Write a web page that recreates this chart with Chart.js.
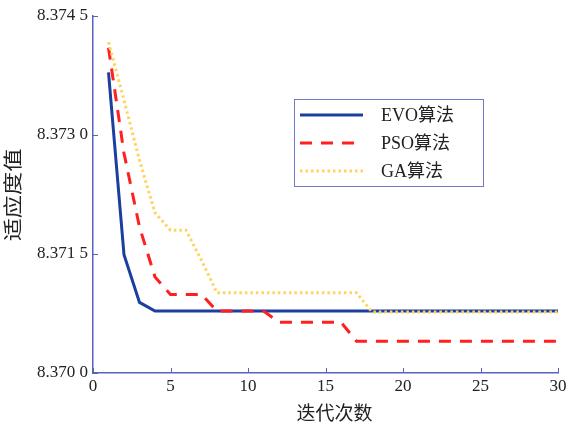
<!DOCTYPE html>
<html>
<head>
<meta charset="utf-8">
<script src="https://cdn.jsdelivr.net/npm/chart.js@4"></script>
<style>
    html, body { margin: 0; padding: 0; background: #fff; }
    #wrap { width: 572px; height: 425px; position: relative; }
</style>
</head>
<body>
<div id="wrap"><canvas id="fitChart"></canvas></div>
<script>
const iterations = [1, 2, 3, 4, 5, 6, 7, 8, 9, 10, 11, 12, 13, 14, 15, 16, 17, 18, 19, 20, 21, 22, 23, 24, 25, 26, 27, 28, 29, 30];

const evoValues = [8.37379, 8.37149, 8.37089, 8.37078, 8.37078, 8.37078, 8.37078, 8.37078, 8.37078, 8.37078,
    8.37078, 8.37078, 8.37078, 8.37078, 8.37078, 8.37078, 8.37078, 8.37078, 8.37078, 8.37078,
    8.37078, 8.37078, 8.37078, 8.37078, 8.37078, 8.37078, 8.37078, 8.37078, 8.37078, 8.37078];

const psoValues = [8.37410, 8.37277, 8.37184, 8.37121, 8.37099, 8.37099, 8.37099, 8.37078, 8.37078, 8.37078,
    8.37078, 8.37064, 8.37064, 8.37064, 8.37064, 8.37064, 8.37040, 8.37040, 8.37040, 8.37040,
    8.37040, 8.37040, 8.37040, 8.37040, 8.37040, 8.37040, 8.37040, 8.37040, 8.37040, 8.37040];

const gaValues = [8.37417, 8.37344, 8.37268, 8.37202, 8.37180, 8.37180, 8.37142, 8.37101, 8.37101, 8.37101,
    8.37101, 8.37101, 8.37101, 8.37101, 8.37101, 8.37101, 8.37101, 8.37077, 8.37077, 8.37077,
    8.37077, 8.37077, 8.37077, 8.37077, 8.37077, 8.37077, 8.37077, 8.37077, 8.37077, 8.37077];

const seriesNames = ['EVO算法', 'PSO算法', 'GA算法'];
const yTicks = [8.3700, 8.3715, 8.3730, 8.3745];
const xTicks = [0, 5, 10, 15, 20, 25, 30];
const xTitle = '迭代次数';
const yTitle = '适应度值';

const axisColor = '#5664bf';
const textColor = '#222';
const fontFamily = '"Liberation Serif", "Noto Sans CJK SC", serif';

function toPoints(values) {
    return values.map((v, i) => ({ x: iterations[i], y: v }));
}

// "8.3745" -> "8.374 5"
function fmtY(v) {
    const s = v.toFixed(4);
    return s.slice(0, 5) + ' ' + s.slice(5);
}

// tick marks point into the plot, like the original
const innerTicks = {
    id: 'innerTicks',
    afterDatasetsDraw(chart) {
        const { ctx, scales: { x, y } } = chart;
        ctx.save();
        ctx.strokeStyle = axisColor;
        ctx.lineWidth = 1;
        ctx.beginPath();
        yTicks.forEach(v => {
            const py = Math.round(y.getPixelForValue(v)) + 0.5;
            ctx.moveTo(x.left, py);
            ctx.lineTo(x.left + 5, py);
        });
        xTicks.forEach(v => {
            const px = Math.round(x.getPixelForValue(v)) + 0.5;
            ctx.moveTo(px, y.bottom);
            ctx.lineTo(px, y.bottom - 5);
        });
        ctx.stroke();
        ctx.restore();
    }
};

// axis titles (the x one sits a little right of centre in the original)
const axisTitles = {
    id: 'axisTitles',
    afterDraw(chart) {
        const { ctx, chartArea } = chart;
        ctx.save();
        ctx.fillStyle = textColor;
        ctx.font = '19px ' + fontFamily;
        ctx.textAlign = 'center';
        ctx.textBaseline = 'middle';
        ctx.fillText(xTitle, (chartArea.left + chartArea.right) / 2 + 9, 415);
        // y title is stretched along its length in the original
        ctx.translate(15, 195);
        ctx.rotate(-Math.PI / 2);
        ctx.scale(1.22, 1);
        ctx.fillText(yTitle, 0, 0);
        ctx.restore();
    }
};

// boxed legend sitting inside the plot
const boxLegend = {
    id: 'boxLegend',
    afterDraw(chart) {
        const { ctx } = chart;
        const left = 294, top = 99, w = 189, h = 87;
        ctx.save();
        ctx.fillStyle = '#fff';
        ctx.fillRect(left, top, w, h);
        ctx.strokeStyle = '#7378c9';
        ctx.lineWidth = 1;
        ctx.strokeRect(left + 0.5, top + 0.5, w, h);
        chart.data.datasets.forEach((ds, i) => {
            const cy = top + 16 + i * 28;
            ctx.beginPath();
            ctx.strokeStyle = ds.borderColor;
            ctx.lineWidth = ds.borderWidth;
            ctx.setLineDash(ds.borderDash || []);
            ctx.moveTo(left + 6, cy);
            ctx.lineTo(left + 69, cy);
            ctx.stroke();
            ctx.setLineDash([]);
            ctx.fillStyle = textColor;
            ctx.font = '18px ' + fontFamily;
            ctx.textBaseline = 'middle';
            ctx.fillText(ds.label, left + 87, cy + 1);
        });
        ctx.restore();
    }
};

new Chart(document.getElementById('fitChart'), {
    type: 'line',
    data: {
        datasets: [
            {
                label: seriesNames[0],
                data: toPoints(evoValues),
                borderColor: '#1b3f9e',
                borderWidth: 3,
                order: 3
            },
            {
                label: seriesNames[1],
                data: toPoints(psoValues),
                borderColor: '#ff1f1f',
                borderWidth: 3,
                borderDash: [12, 9],
                order: 2
            },
            {
                label: seriesNames[2],
                data: toPoints(gaValues),
                borderColor: '#ffd35c',
                borderWidth: 3,
                borderDash: [2.5, 3],
                order: 1
            }
        ]
    },
    options: {
        responsive: true,
        maintainAspectRatio: false,
        animation: false,
        elements: {
            point: { radius: 0 },
            line: { tension: 0, fill: false, borderCapStyle: 'butt' }
        },
        layout: { padding: { left: 0, top: 16, right: 14, bottom: 0 } },
        plugins: {
            legend: { display: false },
            tooltip: { enabled: false }
        },
        scales: {
            x: {
                type: 'linear',
                min: 0,
                max: 30,
                afterBuildTicks: axis => { axis.ticks = xTicks.map(v => ({ value: v })); },
                afterFit: axis => { axis.height = 52; },
                grid: { drawOnChartArea: false, drawTicks: false },
                border: { color: axisColor, width: 1.5 },
                ticks: {
                    padding: 3,
                    color: textColor,
                    font: { family: fontFamily, size: 17 }
                }
            },
            y: {
                min: 8.3700,
                max: 8.3745,
                afterBuildTicks: axis => { axis.ticks = yTicks.map(v => ({ value: v })); },
                afterFit: axis => { axis.width = 93; },
                grid: { drawOnChartArea: false, drawTicks: false },
                border: { color: axisColor, width: 1.5 },
                ticks: {
                    padding: 5,
                    color: textColor,
                    font: { family: fontFamily, size: 17 },
                    callback: v => fmtY(v)
                }
            }
        }
    },
    plugins: [innerTicks, axisTitles, boxLegend]
});
</script>
</body>
</html>
